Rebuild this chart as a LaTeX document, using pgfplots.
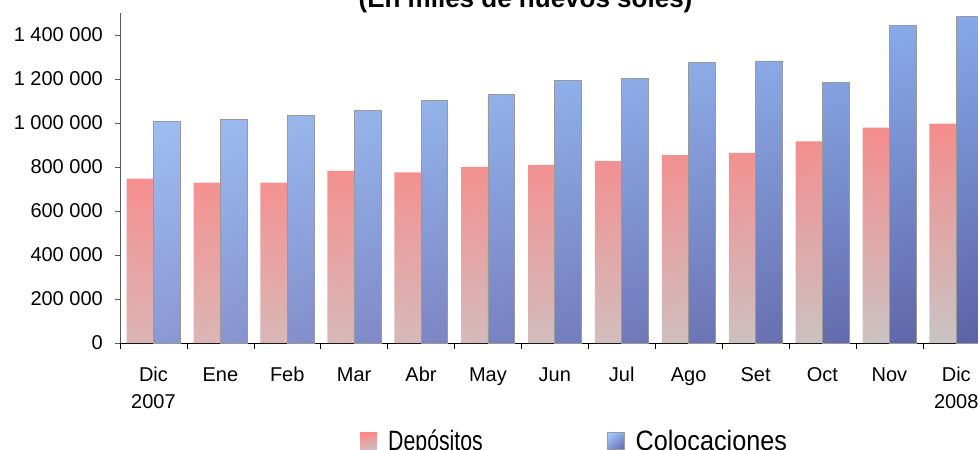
\documentclass[border=0pt]{standalone}
\usepackage{fontspec}
\setmainfont{Liberation Sans}
\usepackage{graphicx}
\usepackage{pgfplots}
\pgfplotsset{compat=1.18}
\usetikzlibrary{shadings}

% colores de las barras
\definecolor{depUL}{HTML}{FF8282}
\definecolor{depUR}{HTML}{F58C8C}
\definecolor{depLL}{HTML}{DDB4B4}
\definecolor{depLR}{HTML}{C8C4C4}
\definecolor{colUL}{HTML}{A6CFFF}
\definecolor{colUR}{HTML}{86A8E8}
\definecolor{colLL}{HTML}{8C98D4}
\definecolor{colLR}{HTML}{5C62A4}

\pgfplotstableread{
idx dep col
0 747000 1007000
1 729000 1018000
2 729000 1033000
3 782000 1059000
4 776000 1104000
5 801000 1130000
6 810000 1194000
7 827000 1201000
8 854000 1274000
9 864000 1282000
10 917000 1185000
11 979000 1442000
12 997000 1486000
}\datos

\begin{document}
\begin{tikzpicture}[x=1pt,y=1pt]
\begin{axis}[
    at={(120pt,107pt)}, anchor=south west,
    scale only axis,
    width=869.7pt, height=330pt,
    axis lines=left,
    axis line style={-},
    x axis line style={draw=black},
    y axis line style={draw=black!65},
    xmin=-0.5, xmax=12.5,
    ymin=0, ymax=1500000,
    scaled y ticks=false,
    ybar=0pt, bar width=0.4,
    xtick={0,...,12},
    xticklabels={Dic,Ene,Feb,Mar,Abr,May,Jun,Jul,Ago,Set,Oct,Nov,Dic},
    extra x ticks={0,12},
    extra x tick labels={2007,2008},
    extra x tick style={major x tick style={draw=none}, xticklabel style={yshift=-27pt}},
    minor xtick={-0.5,0.5,...,12.5},
    ytick={0,200000,...,1400000},
    yticklabels={0,200 000,400 000,600 000,800 000,1 000 000,1 200 000,1 400 000},
    tick align=outside,
    major tick length=5pt, minor tick length=6pt,
    major x tick style={draw=none},
    minor x tick style={draw=black, line width=0.6pt},
    ytick style={draw=black!65, line width=0.6pt},
    tick label style={font=\fontsize{20}{27}\selectfont, inner sep=0pt},
    xticklabel style={anchor=base, yshift=-33pt},
    yticklabel style={xshift=-12pt},
    clip=false,
    legend style={
        at={(0.276,-0.298)}, anchor=west,
        draw=none, fill=none, inner sep=0pt,
        legend columns=2,
        font=\fontsize{28}{30}\selectfont,
        nodes={inner sep=0pt},
        /tikz/every odd column/.append style={column sep=11pt},
        /tikz/every even column/.append style={column sep=124pt},
    },
    legend image code/.code={\path[#1] (0pt,-8pt) rectangle (17pt,9pt);},
]
\addplot[draw=none, upper left=depUL, upper right=depUR, lower left=depLL, lower right=depLR]
    table[x=idx, y=dep] {\datos};
\addplot[draw=black!40, line width=0.8pt, upper left=colUL, upper right=colUR, lower left=colLL, lower right=colLR]
    table[x=idx, y=col] {\datos};
\legend{\scalebox{0.76}[1]{Depósitos}, \scalebox{0.9}[1]{Colocaciones}}
\end{axis}
\node[font=\fontsize{26}{30}\selectfont\bfseries, anchor=base] at (525.5,442) {(En miles de nuevos soles)};
\pgfresetboundingbox
\useasboundingbox (0,0) rectangle (978,450);
\end{tikzpicture}
\end{document}
